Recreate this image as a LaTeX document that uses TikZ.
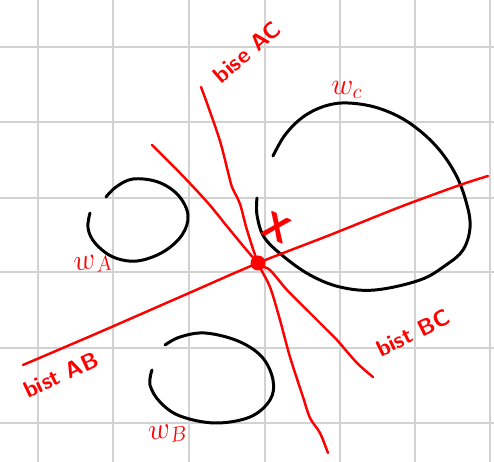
\documentclass[tikz,border=0pt]{standalone}
\usepackage{amsmath,amssymb}
\usepackage{tikz}
\usepackage{xcolor}
\definecolor{penred}{HTML}{FF0000}
\definecolor{gridgray}{HTML}{D2D2D2}
\newcommand{\RedNote}[1]{{\fontsize{13}{15}\selectfont\sffamily\bfseries\color{penred}#1}}

\begin{document}
\begin{tikzpicture}[x=0.02cm,y=-0.02cm,
  gridline/.style={gridgray,line width=1.1pt},
  cell/.style={black,line width=1.7pt,line cap=round},
  bisline/.style={penred,line width=1.4pt,line cap=round,line join=round},
  reddot/.style={circle,fill=penred,inner sep=0pt,minimum size=3mm}]
  \useasboundingbox[fill=white] (0,0) rectangle (494,462);
  \foreach \gx in {38,113,189,265,340,415,490}
    \draw[gridline] (\gx,0) -- (\gx,462);
  \foreach \gy in {47,122,198,272,348,423}
    \draw[gridline] (0,\gy) -- (494,\gy);

  \coordinate (xc) at (258,263);

  \draw[cell] plot[smooth,tension=0.6] coordinates {(90,213) (88,228) (95,243) (113,257) (137,261) (163,252) (182,235) (188,215) (178,195) (158,182) (133,179) (116,187) (106,197)};
  \draw[cell] plot[smooth,tension=0.6] coordinates {(152,370) (150,385) (160,402) (180,416) (215,423) (250,417) (270,400) (273,380) (262,357) (238,341) (205,333) (180,337) (165,345)};
  \draw[cell] plot[smooth,tension=0.6] coordinates {(273,156) (285,135) (303,117) (325,106) (348,103) (378,108) (408,122) (436,146) (456,175) (467,205) (470,228) (463,250) (446,265) (420,280) (375,290) (340,287) (310,275) (283,256) (264,237) (257,215) (257,198)};

  \draw[bisline] plot[smooth,tension=0.5] coordinates {(23,365) (100,332) (180,297) (xc) (330,235) (400,207) (460,185) (488,176)};
  \draw[bisline] plot[smooth,tension=0.5] coordinates {(201,87) (208,106) (220,141) (228,172) (232,187) (240,204) (247,230) (xc) (270,287) (280,320) (290,357) (303,397) (310,418) (320,433) (328,453)};
  \draw[bisline] plot[smooth,tension=0.5] coordinates {(152,145) (180,173) (208,203) (230,230) (xc) (270,270) (287,290) (310,313) (327,330) (337,340) (357,363) (373,377)};

  \node[reddot] (pX) at (xc) {};

  \node[rotate=41] (labAC) at (247,52) {\RedNote{bise AC}};
  \node[rotate=25] (labAB) at (61,375) {\RedNote{bist AB}};
  \node[rotate=26] (labBC) at (413,333) {\RedNote{bist BC}};
  \node[rotate=10] (labA) at (93,264) {\RedNote{\fontsize{17}{19}\selectfont$w_A$}};
  \node[rotate=8] (labB) at (168,434) {\RedNote{\fontsize{17}{19}\selectfont$w_B$}};
  \node (labC) at (347,90) {\RedNote{\fontsize{17}{19}\selectfont$w_c$}};
  \node[rotate=-25] (labX) at (277,228) {\RedNote{\fontsize{21}{23}\selectfont X}};
\end{tikzpicture}
\end{document}
